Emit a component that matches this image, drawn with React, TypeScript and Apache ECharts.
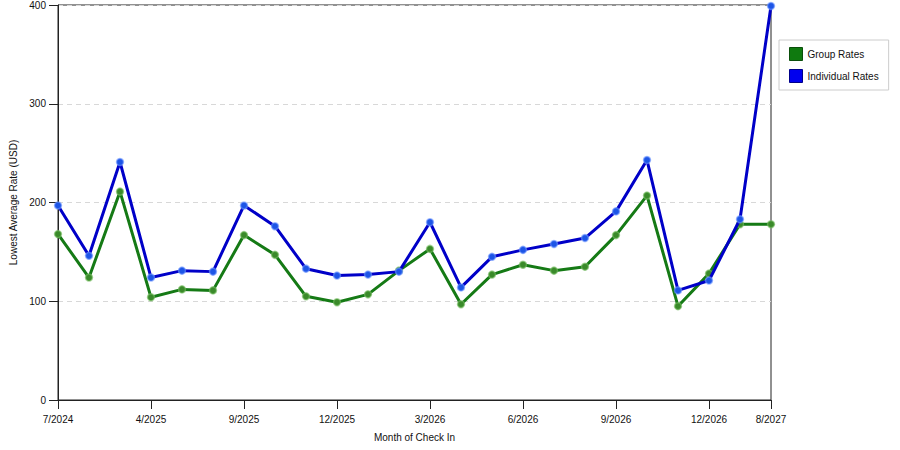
import React, { useEffect, useRef } from "react";
import * as echarts from "echarts";

const categories = [
  "7/2024", "8/2024", "12/2024", "4/2025", "6/2025", "8/2025",
  "9/2025", "10/2025", "11/2025", "12/2025", "1/2026", "2/2026",
  "3/2026", "4/2026", "5/2026", "6/2026", "7/2026", "8/2026",
  "9/2026", "10/2026", "11/2026", "12/2026", "1/2027", "8/2027",
];

const groupRates = [
  168, 124, 211, 104, 112, 111,
  167, 147, 105, 99, 107, 131,
  153, 97, 127, 137, 131, 135,
  167, 207, 95, 128, 178, 178,
];

const individualRates = [
  197, 146, 241, 124, 131, 130,
  197, 176, 133, 126, 127, 130,
  180, 114, 145, 152, 158, 164,
  191, 243, 111, 121, 183, 399,
];

const yTicks = { min: 0, max: 400, interval: 100 };

const FONT = "'Liberation Sans', Arial, sans-serif";

export default function App() {
  const ref = useRef<HTMLDivElement>(null);

  useEffect(() => {
    if (!ref.current) return;
    const chart = echarts.init(ref.current, undefined, { renderer: "svg" });
    const last = categories.length - 1;
    const showIdx = (i: number) => i % 3 === 0 || i === last;
    chart.setOption({
      animation: false,
      backgroundColor: "#ffffff",
      textStyle: { fontFamily: FONT },
      grid: {
        left: 58,
        right: 129,
        top: 5,
        bottom: 50,
        show: true,
        borderColor: "#222",
        borderWidth: 1,
        backgroundColor: "transparent",
      },
      legend: {
        orient: "vertical",
        left: 779,
        top: 40,
        padding: [7, 10, 7, 10],
        itemGap: 8,
        itemWidth: 13,
        itemHeight: 13,
        icon: "rect",
        borderColor: "#cccccc",
        borderWidth: 1,
        textStyle: { fontSize: 10, color: "#111", fontFamily: FONT },
        data: [
          {
            name: "Group Rates",
            itemStyle: { color: "#0f7a0f", borderColor: "#0a4f0a", borderWidth: 1 },
          },
          {
            name: "Individual Rates",
            itemStyle: { color: "#0000ee", borderColor: "#00008a", borderWidth: 1 },
          },
        ],
      },
      xAxis: {
        type: "category",
        data: categories,
        boundaryGap: false,
        name: "Month of Check In",
        nameLocation: "middle",
        nameGap: 32,
        nameTextStyle: { fontSize: 10, color: "#111", fontFamily: FONT },
        axisLine: { lineStyle: { color: "#222", width: 1 } },
        axisTick: {
          show: true,
          length: 9,
          interval: (i: number) => showIdx(i),
          lineStyle: { color: "#222" },
        },
        axisLabel: {
          interval: (i: number) => showIdx(i),
          fontSize: 10,
          color: "#111",
          margin: 14,
          fontFamily: FONT,
        },
        splitLine: { show: false },
      },
      yAxis: {
        type: "value",
        min: yTicks.min,
        max: yTicks.max,
        interval: yTicks.interval,
        name: "Lowest Average Rate (USD)",
        nameLocation: "middle",
        nameGap: 40,
        nameRotate: 90,
        nameTextStyle: { fontSize: 10, color: "#111", fontFamily: FONT },
        axisLine: { show: true, lineStyle: { color: "#222", width: 1 } },
        axisTick: { show: true, length: 9, lineStyle: { color: "#222" } },
        axisLabel: { fontSize: 10, color: "#111", margin: 12, fontFamily: FONT },
        splitLine: {
          show: true,
          lineStyle: { color: "#d8d8d8", type: [5, 4], width: 1 },
        },
      },
      series: [
        {
          name: "Group Rates",
          type: "line",
          data: groupRates,
          symbol: "circle",
          symbolSize: 7,
          lineStyle: { color: "#157a15", width: 3 },
          itemStyle: {
            color: "#3a8a2a",
            borderColor: "rgba(120,190,100,0.6)",
            borderWidth: 1.5,
          },
          z: 2,
        },
        {
          name: "Individual Rates",
          type: "line",
          data: individualRates,
          symbol: "circle",
          symbolSize: 7,
          lineStyle: { color: "#0000c8", width: 3 },
          itemStyle: {
            color: "#1d55e6",
            borderColor: "rgba(110,150,255,0.6)",
            borderWidth: 1.5,
          },
          z: 3,
        },
      ],
    });
    return () => chart.dispose();
  }, []);

  return (
    <div
      ref={ref}
      style={{ position: "fixed", left: 0, top: 0, width: 900, height: 450, background: "#fff" }}
    />
  );
}
